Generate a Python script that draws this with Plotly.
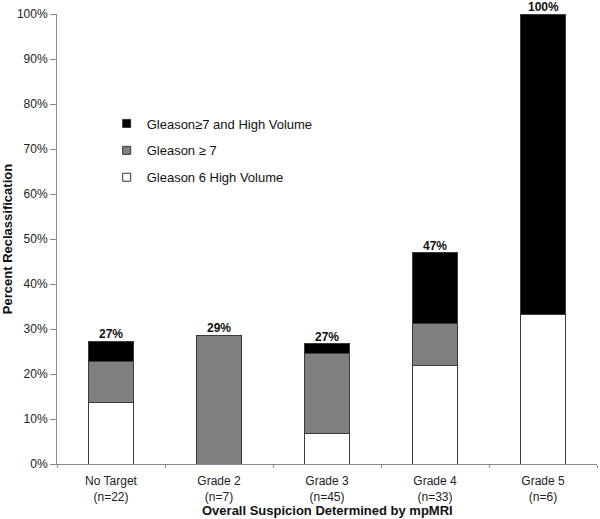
import plotly.graph_objects as go

categories = ["No Target<br>(n=22)", "Grade 2<br>(n=7)", "Grade 3<br>(n=45)", "Grade 4<br>(n=33)", "Grade 5<br>(n=6)"]
gleason6_high_volume = [13.6, 0.0, 6.7, 21.8, 33.3]
gleason_ge7 = [9.1, 28.6, 17.8, 9.5, 0.0]
gleason_ge7_high_volume = [4.6, 0.0, 2.2, 15.7, 66.7]
total_labels = ["27%", "29%", "27%", "47%", "100%"]

series_names = ["Gleason 6 High Volume", "Gleason ≥ 7", "Gleason≥7 and High Volume"]
series_colors = ["#ffffff", "#808080", "#000000"]

FONT = "Liberation Sans, Arial, sans-serif"
line = dict(color="#3a3a3a", width=1)

fig = go.Figure()
for vals, name, col in zip([gleason6_high_volume, gleason_ge7, gleason_ge7_high_volume], series_names, series_colors):
    fig.add_bar(x=categories, y=vals, name=name, showlegend=False,
                marker=dict(color=col, line=line))

# legend entries (small square keys), listed top to bottom
for name, col in zip(series_names[::-1], series_colors[::-1]):
    fig.add_scatter(x=[categories[0]], y=[None], mode="markers", name=name, legendgroup=name,
                    marker=dict(symbol="square", size=8, color=col, line=dict(color="#333", width=1)))

totals = [a + b + c for a, b, c in zip(gleason6_high_volume, gleason_ge7, gleason_ge7_high_volume)]
for cat, tot, lab in zip(categories, totals, total_labels):
    fig.add_annotation(x=cat, y=tot, text="<b>" + lab + "</b>", showarrow=False,
                       yanchor="bottom", yshift=-2, font=dict(size=12, color="#111", family=FONT))

fig.add_annotation(xref="paper", yref="paper", x=0.5, y=-0.103, yanchor="middle", showarrow=False,
                   text="<b>Overall Suspicion Determined by mpMRI</b>", font=dict(size=13, color="#111", family=FONT))

fig.update_layout(
    barmode="stack",
    bargap=0.59,
    width=600, height=519,
    margin=dict(l=57, r=3, t=14, b=55),
    paper_bgcolor="white", plot_bgcolor="white",
    font=dict(family=FONT, size=12, color="#222"),
    showlegend=True,
    legend=dict(x=0.092, y=0.79, xanchor="left", yanchor="top", traceorder="grouped",
                font=dict(size=13, color="#111", family=FONT), bgcolor="rgba(0,0,0,0)",
                itemwidth=30, tracegroupgap=7),
)
fig.update_yaxes(range=[0, 100], dtick=10, ticksuffix="%", showgrid=False, zeroline=False,
                 automargin=False,
                 showline=True, linecolor="#8a8a8a", linewidth=1, ticks="outside", ticklen=6,
                 tickcolor="#8a8a8a", tickfont=dict(size=12, color="#222"),
                 title=dict(text="<b>Percent Reclassification</b>", font=dict(size=13, color="#111"), standoff=6))
fig.update_xaxes(showgrid=False, showline=True, linecolor="#8a8a8a", linewidth=1, ticks="outside",
                 automargin=False,
                 tickson="boundaries", ticklen=3, tickcolor="#8a8a8a", ticklabelstandoff=6,
                 tickfont=dict(size=12, color="#222"))

fig.write_html("out.html", config={"displayModeBar": False},
               post_script="document.body.style.margin='0';")
